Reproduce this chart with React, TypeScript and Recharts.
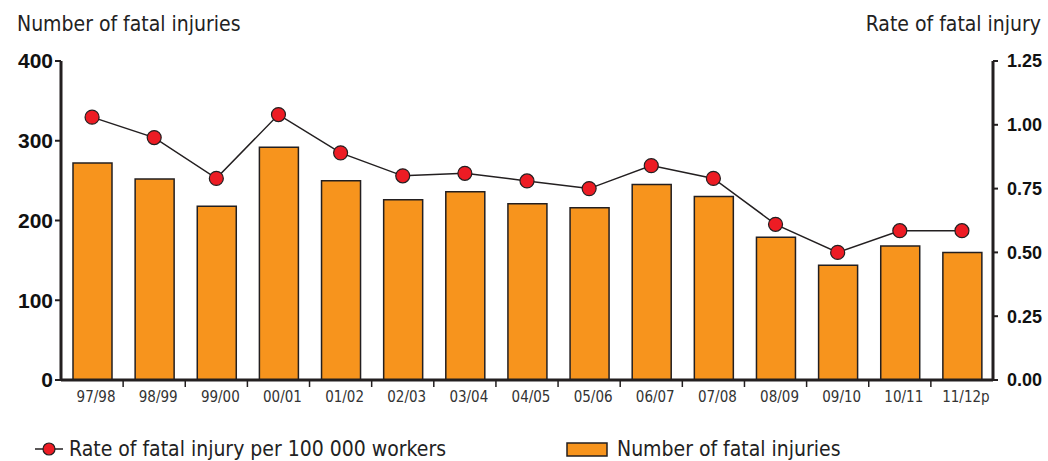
import { ComposedChart, Bar, Line, XAxis, YAxis } from 'recharts';

const years = ['97/98', '98/99', '99/00', '00/01', '01/02', '02/03', '03/04', '04/05', '05/06', '06/07', '07/08', '08/09', '09/10', '10/11', '11/12p'];
const injuries = [272, 252, 218, 292, 250, 226, 236, 221, 216, 245, 230, 179, 144, 168, 160];
const rates = [1.03, 0.95, 0.79, 1.04, 0.89, 0.8, 0.81, 0.78, 0.75, 0.84, 0.79, 0.61, 0.5, 0.585, 0.585];
const leftTicks = [0, 100, 200, 300, 400];
const rightTicks = [0, 0.25, 0.5, 0.75, 1, 1.25];

const narrow = '"Liberation Sans Narrow", "DejaVu Sans Condensed", Arial, sans-serif';
const bold = '"Liberation Sans", Arial, sans-serif';
const ink = '#231F20';

const W = 1048;
const H = 461;
const plotLeft = 61;
const plotRight = 993;
const bandW = (plotRight - plotLeft) / years.length;

const data = years.map((y, i) => ({ year: y, injuries: injuries[i], rate: rates[i] }));

function YearTick(props: any) {
  const { x, y, payload, index } = props;
  return (
    <g>
      {index > 0 && <line x1={x - bandW / 2} x2={x - bandW / 2} y1={y - 8} y2={y - 1} stroke={ink} strokeWidth={1.5} />}
      <text x={x + 4} y={y + 14} textAnchor="middle" fontFamily={narrow} fontSize={15} fill="#333">
        {payload.value}
      </text>
    </g>
  );
}

export default function App() {
  return (
    <div style={{ position: 'absolute', left: 0, top: 0, width: W, height: H, background: '#fff' }}>
      <div style={{ position: 'absolute', left: 17, top: 12, fontFamily: narrow, fontSize: 21, color: '#222' }}>
        Number of fatal injuries
      </div>
      <div style={{ position: 'absolute', right: 7, top: 12, fontFamily: narrow, fontSize: 21, color: '#222' }}>
        Rate of fatal injury
      </div>
      <ComposedChart width={W} height={H} data={data} margin={{ top: 61, right: 0, bottom: 51, left: 11 }}>
        <XAxis
          dataKey="year"
          height={30}
          axisLine={{ stroke: ink, strokeWidth: 3 }}
          tickLine={false}
          interval={0}
          tick={<YearTick />}
        />
        <YAxis
          yAxisId="left"
          width={50}
          domain={[0, 400]}
          ticks={leftTicks}
          axisLine={{ stroke: ink, strokeWidth: 3 }}
          tickLine={{ stroke: ink, strokeWidth: 2 }}
          tickSize={6}
          tickMargin={2}
          tick={{ fontFamily: bold, fontSize: 21, fontWeight: 'bold', fill: '#111' }}
        />
        <YAxis
          yAxisId="right"
          orientation="right"
          width={55}
          domain={[0, 1.25]}
          ticks={rightTicks}
          tickFormatter={(v: number) => v.toFixed(2)}
          axisLine={{ stroke: ink, strokeWidth: 3 }}
          tickLine={{ stroke: ink, strokeWidth: 2 }}
          tickSize={5}
          tickMargin={9}
          tick={{ fontFamily: bold, fontSize: 18, fontWeight: 'bold', fill: '#111' }}
        />
        <Bar yAxisId="left" dataKey="injuries" barSize={39} fill="#F7941D" stroke={ink} strokeWidth={1.5} isAnimationActive={false} />
        <Line
          yAxisId="right"
          dataKey="rate"
          type="linear"
          stroke={ink}
          strokeWidth={1.5}
          dot={{ r: 7, fill: '#ED1C24', stroke: ink, strokeWidth: 1.2, fillOpacity: 1 }}
          activeDot={false}
          isAnimationActive={false}
        />
      </ComposedChart>
      <div style={{ position: 'absolute', left: 34, top: 437, display: 'flex', alignItems: 'center', fontFamily: narrow, fontSize: 21, color: '#222' }}>
        <svg width={30} height={20} style={{ marginRight: 5 }}>
          <line x1={1} x2={29} y1={10} y2={10} stroke={ink} strokeWidth={1.5} />
          <circle cx={15} cy={10} r={6} fill="#ED1C24" stroke={ink} strokeWidth={1.2} />
        </svg>
        Rate of fatal injury per 100 000 workers
      </div>
      <div style={{ position: 'absolute', left: 566, top: 437, display: 'flex', alignItems: 'center', fontFamily: narrow, fontSize: 21, color: '#222' }}>
        <svg width={42} height={20} style={{ marginRight: 9 }}>
          <rect x={1} y={4} width={40} height={13} fill="#F7941D" stroke={ink} strokeWidth={1.5} />
        </svg>
        Number of fatal injuries
      </div>
    </div>
  );
}
